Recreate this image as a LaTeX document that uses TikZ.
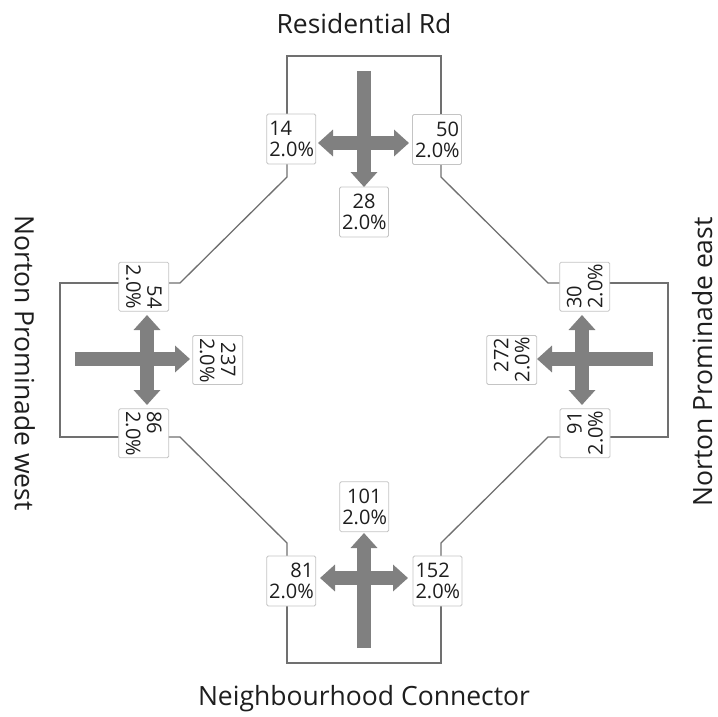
\documentclass[tikz,border=0pt]{standalone}
\usepackage{fontspec}
\setmainfont{Open Sans}
\usetikzlibrary{arrows.meta,backgrounds}
\definecolor{roadline}{HTML}{707070}
\definecolor{flowgray}{HTML}{808080}
\definecolor{boxedge}{HTML}{C4C4C4}
\definecolor{labelink}{HTML}{1E1E1E}
\tikzset{
  road/.style={draw=roadline, line width=1.3pt},
  flow/.style={draw=flowgray, line width=13.5pt},
  flowtip/.style={},
  onehead/.style={flow, -{Triangle[width=26pt,length=15pt]}},
  twohead/.style={flow, {Triangle[width=26pt,length=15pt]}-{Triangle[width=26pt,length=15pt]}},
  count/.style={draw=boxedge, fill=white, line width=0.8pt, rounded corners=1.5pt,
    inner xsep=2.5pt, inner ysep=0pt, text width=44pt, minimum height=50pt,
    font=\fontsize{20}{21}\selectfont, text=labelink},
  street/.style={font=\fontsize{26.5}{30}\selectfont, text=labelink, anchor=base, inner sep=0pt},
}
\begin{document}
\begin{tikzpicture}[x=1pt, y=-1pt]
\useasboundingbox (0,0) rectangle (718,717);

% street names
\node[street] (north) at (364,33.5) {Residential Rd};
\node[street] (south) at (364,705) {Neighbourhood Connector};
\node[street, rotate=-90] (west) at (15,363) {Norton Prominade west};
\node[street, rotate=90] (east) at (712,362) {Norton Prominade east};

% turning counts, top junction
\node[count, align=left]   (t14) at (291.3,139)   {14\\2.0\%};
\node[count, align=right]  (t50) at (437,139.5)   {50\\2.0\%};
\node[count, align=center] (t28) at (364,212)     {28\\2.0\%};
% left junction
\node[count, align=right,  rotate=-90] (l54)  at (143.8,286.7) {54\\2.0\%};
\node[count, align=center, rotate=-90] (l237) at (217.7,360)   {237\\2.0\%};
\node[count, align=left,   rotate=-90] (l86)  at (143.7,433.3) {86\\2.0\%};
% right junction
\node[count, align=left,  rotate=90] (r30)  at (584.7,286.7) {30\\2.0\%};
\node[count, align=right, rotate=90] (r272) at (511.7,360)   {272\\2.0\%};
\node[count, align=right, rotate=90] (r91)  at (585,433.3)   {91\\2.0\%};
% bottom junction
\node[count, align=center] (b101) at (364.3,506.7) {101\\2.0\%};
\node[count, align=right]  (b81)  at (291.2,581)   {81\\2.0\%};
\node[count, align=left]   (b152) at (437.5,581)   {152\\2.0\%};

% road outline corners
\coordinate (tl)  at (287,56);   \coordinate (tr)  at (441,56);
\coordinate (tlk) at (287,177);  \coordinate (trk) at (441,177);
\coordinate (ltk) at (180,283);  \coordinate (lt)  at (60,283);
\coordinate (lb)  at (60,437);   \coordinate (lbk) at (180,437);
\coordinate (blk) at (287,543);  \coordinate (bl)  at (287,663);
\coordinate (br)  at (441,663);  \coordinate (brk) at (441,543);
\coordinate (rbk) at (548,437);  \coordinate (rb)  at (668,437);
\coordinate (rt)  at (668,283);  \coordinate (rtk) at (548,283);

\begin{pgfonlayer}{background}
\draw[road] (t14.center -| tl) -- (tl) -- (tr) -- (t50.center -| tr);
\draw[road] (t14.center -| tlk) -- (tlk) -- (ltk) -- (l54.center |- ltk);
\draw[road] (l54.center |- lt) -- (lt) -- (lb) -- (l86.center |- lb);
\draw[road] (l86.center |- lbk) -- (lbk) -- (blk) -- (b81.center -| blk);
\draw[road] (b81.center -| bl) -- (bl) -- (br) -- (b152.center -| br);
\draw[road] (b152.center -| brk) -- (brk) -- (rbk) -- (r91.center |- rbk);
\draw[road] (r91.center |- rb) -- (rb) -- (rt) -- (r30.center |- rt);
\draw[road] (r30.center |- rtk) -- (rtk) -- (trk) -- (t50.center -| trk);
\end{pgfonlayer}

% movement arrows
\coordinate (tN) at (364,71);  \coordinate (tS) at (364,187);
\coordinate (tW) at (318,143); \coordinate (tE) at (409,143);
\coordinate (lW) at (75,359);  \coordinate (lE) at (190,359);
\coordinate (lN) at (147,315); \coordinate (lS) at (147,405);
\coordinate (rE) at (653,359); \coordinate (rW) at (537,359);
\coordinate (rN) at (582,315); \coordinate (rS) at (582,405);
\coordinate (bS) at (364,648); \coordinate (bN) at (364,533);
\coordinate (bW) at (320,578); \coordinate (bE) at (408,578);

\draw[onehead] (tN) -- (tS);
\draw[twohead] (tW) -- (tE);
\draw[onehead] (lW) -- (lE);
\draw[twohead] (lN) -- (lS);
\draw[onehead] (rE) -- (rW);
\draw[twohead] (rN) -- (rS);
\draw[onehead] (bS) -- (bN);
\draw[twohead] (bW) -- (bE);
\end{tikzpicture}
\end{document}
